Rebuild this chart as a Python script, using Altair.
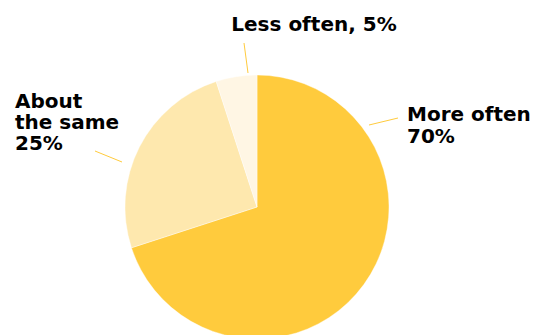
import altair as alt
import pandas as pd

# ---- data ----
categories = ["More often", "About the same", "Less often"]
shares = [70, 25, 5]
slice_colors = ["#FFCB3D", "#FEE8AE", "#FFF6E4"]

# label wording (text only)
label_templates = {
    "More often": "More often\n{v}%",
    "About the same": "About\nthe same\n{v}%",
    "Less often": "Less often, {v}%",
}

df = pd.DataFrame({
    "category": categories,
    "share": shares,
    "order": list(range(len(categories))),
    "label": [label_templates[c].format(v=s) for c, s in zip(categories, shares)],
})

# ---- layout (annotation placement, chart coordinates) ----
LABEL_LAYOUT = {
    "More often": dict(x=399, y=113, align="left", lh=22),
    "About the same": dict(x=7, y=100, align="left", lh=21),
    "Less often": dict(x=306, y=23, align="center", lh=20),
}
LEADERS = {
    "More often": (361, 117, 390, 110),
    "About the same": (114, 154, 87, 143),
    "Less often": (240, 65, 236, 35),
}

FONT = "DejaVu Sans"
base = alt.Chart(df)

pie = base.mark_arc(outerRadius=132, stroke="white", strokeWidth=0.4).encode(
    theta=alt.Theta("share:Q", stack=True),
    color=alt.Color("category:N",
                    scale=alt.Scale(domain=categories, range=slice_colors),
                    legend=None),
    order=alt.Order("order:Q"),
)

layers = [pie]
for cat in categories:
    pos = LABEL_LAYOUT[cat]
    layers.append(
        base.transform_filter(alt.datum.category == cat).mark_text(
            align=pos["align"], baseline="alphabetic", lineBreak="\n",
            lineHeight=pos["lh"], font=FONT, fontSize=20, fontWeight="bold",
            color="#000000",
        ).encode(x=alt.value(pos["x"]), y=alt.value(pos["y"]), text="label:N")
    )
    x1, y1, x2, y2 = LEADERS[cat]
    layers.append(
        base.transform_filter(alt.datum.category == cat).mark_rule(
            color="#FFCB3D", strokeWidth=1
        ).encode(x=alt.value(x1), y=alt.value(y1), x2=alt.value(x2), y2=alt.value(y2))
    )

chart = alt.layer(*layers).properties(
    width=498, height=398,
    autosize=alt.AutoSizeParams(type="none"),
    padding={"left": 0, "top": 0, "right": 26, "bottom": 0},
).configure_view(stroke=None)

chart.save("out.html", embed_options={"renderer": "svg", "actions": False})
